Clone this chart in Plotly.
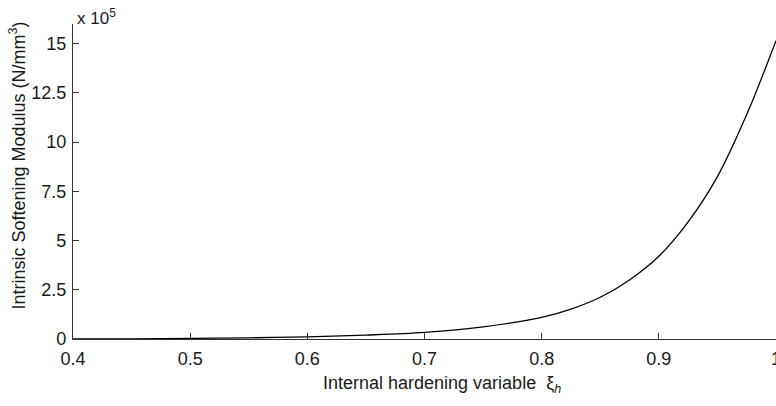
import plotly.graph_objects as go

# Internal hardening variable xi_h
xi_h = [0.40, 0.45, 0.50, 0.55, 0.60, 0.65, 0.70, 0.75, 0.80, 0.825,
        0.85, 0.875, 0.90, 0.925, 0.95, 0.975, 1.00]
# Intrinsic softening modulus, in units of 1e5 N/mm^3
modulus_e5 = [0.0, 0.01, 0.03, 0.06, 0.11, 0.2, 0.34, 0.62, 1.1, 1.52,
              2.12, 3.0, 4.2, 5.95, 8.25, 11.4, 15.15]

x_ticks = [0.4, 0.5, 0.6, 0.7, 0.8, 0.9, 1.0]
x_tick_text = ["0.4", "0.5", "0.6", "0.7", "0.8", "0.9", "1"]
y_ticks = [0, 2.5, 5, 7.5, 10, 12.5, 15]
y_tick_text = ["0", "2.5", "5", "7.5", "10", "12.5", "15"]

font_family = "Liberation Sans, Arial, Helvetica, sans-serif"
txt_color = "#1a1a1a"

fig = go.Figure()
fig.add_trace(go.Scatter(
    x=xi_h, y=modulus_e5, mode="lines",
    line=dict(color="black", width=1.3, shape="spline", smoothing=1.0),
    showlegend=False, hoverinfo="skip", cliponaxis=False,
))

axis_common = dict(
    showgrid=False, zeroline=False, showline=True, linecolor="#333333",
    linewidth=1.2, ticks="inside", ticklen=6, tickcolor="#333333",
    tickwidth=1, tickfont=dict(family=font_family, size=18, color=txt_color),
    mirror=False, automargin=False, ticklabeloverflow="allow",
)

fig.update_layout(
    width=776, height=406,
    margin=dict(l=73, r=0, t=24, b=67),
    paper_bgcolor="white", plot_bgcolor="white",
    font=dict(family=font_family, size=18, color=txt_color),
    xaxis=dict(range=[0.4, 1.0], tickvals=x_ticks, ticktext=x_tick_text,
               ticklabelstandoff=3, **axis_common),
    yaxis=dict(range=[0, 16], tickvals=y_ticks, ticktext=y_tick_text,
               ticklabelstandoff=2, **axis_common),
    annotations=[
        dict(text="x 10<sup>5</sup>", xref="paper", yref="paper", x=0.0, y=1.0,
             xanchor="left", yanchor="bottom", xshift=2, yshift=-6, showarrow=False,
             font=dict(family=font_family, size=17, color=txt_color)),
        dict(text="Intrinsic Softening Modulus (N/mm<sup>3</sup>)", xref="paper", yref="paper",
             x=0, y=0.5, xanchor="center", yanchor="middle", xshift=-55, yshift=16,
             textangle=-90, showarrow=False,
             font=dict(family=font_family, size=18, color=txt_color)),
        dict(text="Internal hardening variable  ξ<sub><i>h</i></sub>", xref="paper", yref="paper",
             x=0.5, y=0, xanchor="center", yanchor="middle", xshift=17, yshift=-45,
             showarrow=False,
             font=dict(family=font_family, size=18, color=txt_color)),
    ],
)

fig.write_html(
    "out.html",
    config={"displayModeBar": False, "staticPlot": True},
    post_script="document.body.style.margin='0';document.body.style.overflow='hidden';",
)
